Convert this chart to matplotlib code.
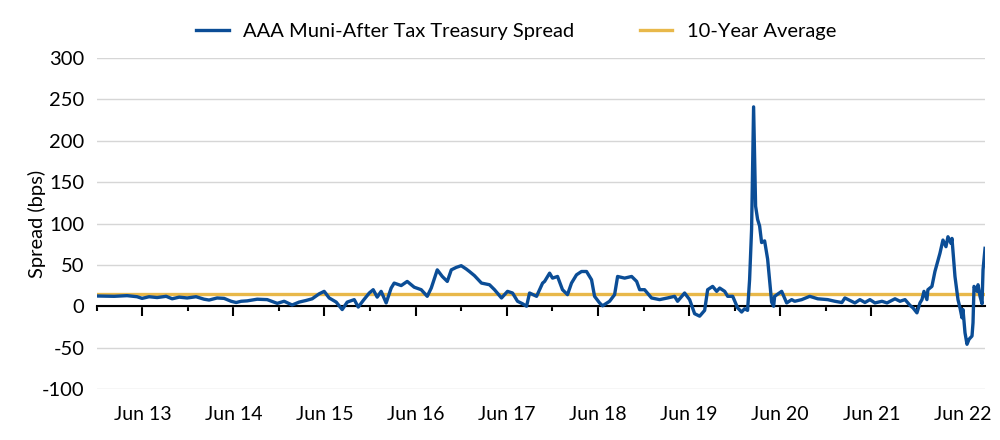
import pandas as pd
import matplotlib.pyplot as plt
import matplotlib.dates as mdates

### Data ###

# Observation dates as decimal years, spread in bps
years = [2012.912, 2013.102, 2013.245, 2013.355, 2013.410, 2013.487, 2013.575, 2013.674,
         2013.740, 2013.817, 2013.905, 2014.003, 2014.091, 2014.146, 2014.234, 2014.311,
         2014.388, 2014.443, 2014.498, 2014.564, 2014.674, 2014.784, 2014.894, 2014.970,
         2015.058, 2015.135, 2015.212, 2015.278, 2015.355, 2015.410, 2015.465, 2015.542,
         2015.608, 2015.663, 2015.740, 2015.784, 2015.839, 2015.905, 2015.948, 2015.992,
         2016.036, 2016.091, 2016.146, 2016.179, 2016.256, 2016.322, 2016.399, 2016.476,
         2016.542, 2016.586, 2016.652, 2016.707, 2016.762, 2016.806, 2016.861, 2016.915,
         2016.970, 2017.003, 2017.058, 2017.135, 2017.223, 2017.278, 2017.355, 2017.421,
         2017.476, 2017.531, 2017.586, 2017.630, 2017.663, 2017.740, 2017.806, 2017.828,
         2017.883, 2017.915, 2017.970, 2018.025, 2018.080, 2018.124, 2018.179, 2018.234,
         2018.289, 2018.344, 2018.377, 2018.432, 2018.465, 2018.542, 2018.597, 2018.630,
         2018.707, 2018.784, 2018.839, 2018.872, 2018.926, 2019.003, 2019.091, 2019.179,
         2019.256, 2019.289, 2019.366, 2019.421, 2019.476, 2019.531, 2019.586, 2019.619,
         2019.674, 2019.718, 2019.751, 2019.806, 2019.839, 2019.894, 2019.948, 2019.992,
         2020.025, 2020.058, 2020.080, 2020.102, 2020.124, 2020.146, 2020.168, 2020.190,
         2020.212, 2020.245, 2020.278, 2020.311, 2020.322, 2020.344, 2020.355, 2020.432,
         2020.487, 2020.542, 2020.575, 2020.652, 2020.740, 2020.828, 2020.937, 2021.014,
         2021.091, 2021.124, 2021.179, 2021.234, 2021.289, 2021.344, 2021.399, 2021.454,
         2021.531, 2021.586, 2021.674, 2021.729, 2021.784, 2021.839, 2021.872, 2021.915,
         2021.948, 2021.970, 2021.992, 2022.025, 2022.036, 2022.080, 2022.113, 2022.168,
         2022.201, 2022.234, 2022.256, 2022.289, 2022.300, 2022.333, 2022.366, 2022.388,
         2022.410, 2022.421, 2022.443, 2022.465, 2022.487, 2022.520, 2022.531, 2022.542,
         2022.575, 2022.586, 2022.608, 2022.630, 2022.641, 2022.663]

spread = [12.4, 12, 12.8, 11.5, 9.5, 11.5, 10.5, 12,
          9, 11, 10, 11.5, 8.5, 7.5, 10, 9.5,
          6, 4.5, 6, 6.5, 8.5, 8, 3.5, 6,
          1.5, 5, 7, 9, 15, 18, 10, 5,
          -4, 5, 8, -1, 7, 16, 20, 11,
          18, 4, 22, 28, 25, 30, 23, 20,
          12, 22, 44, 36, 30, 44, 47, 49,
          45, 42, 37, 28, 26, 20, 10, 18,
          16, 6, 3, 0, 16, 12, 28, 30,
          40, 34, 36, 20, 14, 28, 38, 42,
          42, 32, 12, 4, 0.5, 6, 14, 36,
          34, 36, 30, 20, 20, 10, 8, 10,
          12, 6, 16, 8, -9, -12, -5, 20,
          24, 18, 22, 18, 12, 12, -2, -7,
          -3, -5, 32, 93, 241, 121, 105, 97,
          77, 79, 57, 17, 5, 0, 12, 18,
          4, 8, 6, 8, 12, 9, 8, 6,
          4.5, 10, 7, 4, 8, 4.5, 8, 4,
          6, 4, 9, 6, 8, 1, -2, -8,
          4, 8, 18, 8, 20, 24, 42, 64,
          80, 72, 84, 76, 82, 36, 8, -2,
          -14, -4, -32, -46, -40, -36, -20, 24,
          18, 26, 12, 3, 44, 70]

avg_10y = 15.0

series_label = 'AAA Muni-After Tax Treasury Spread'
avg_label = '10-Year Average'
y_ticks = [-100, -50, 0, 50, 100, 150, 200, 250, 300]

#########################

def to_date(y):
    # decimal year -> timestamp
    base = pd.Timestamp(int(y), 1, 1)
    return base + pd.Timedelta(days=(y - int(y)) * 365.25)

dates = [to_date(y) for y in years]

plt.rcParams['font.family'] = ['Lato', 'DejaVu Sans']
plt.rcParams['axes.unicode_minus'] = False

blue = '#0b4d96'
gold = '#e8b84a'

fig = plt.figure(figsize=(10, 4.4), dpi=100)
ax = fig.add_axes([0.097, 0.116, 0.888, 0.752])

ax.plot(dates, spread, color=blue, linewidth=2.4, label=series_label, zorder=3)
ax.axhline(y=avg_10y, color=gold, linewidth=2.4, label=avg_label, zorder=2)

# Axis limits and ticks
ax.set_xlim(pd.Timestamp('2012-12-01'), pd.Timestamp('2022-08-31'))
ax.set_ylim(-100, 300)
ax.set_yticks(y_ticks)
ax.grid(axis='y', color='#d6d6d6', linewidth=1.0, zorder=0)
ax.set_axisbelow(True)

for side in ['top', 'right', 'left']:
    ax.spines[side].set_visible(False)
ax.spines['bottom'].set_position(('data', 0))
ax.spines['bottom'].set_linewidth(1.5)
ax.spines['bottom'].set_zorder(2.5)

ax.xaxis.set_major_locator(mdates.MonthLocator(bymonth=6))
ax.xaxis.set_minor_locator(mdates.MonthLocator(bymonth=12))
ax.xaxis.set_major_formatter(mdates.DateFormatter('%b %y'))
ax.tick_params(axis='x', which='major', length=7, width=1.5, pad=65, labelsize=14)
ax.tick_params(axis='x', which='minor', length=3.5, width=1.5)
ax.tick_params(axis='y', length=0, pad=9, labelsize=14.5)

ax.set_ylabel('Spread (bps)', fontsize=14.5, labelpad=-3)

ax.legend(loc='upper center', bbox_to_anchor=(0.472, 1.16), ncol=2, frameon=False,
          fontsize=14.5, handlelength=1.6, handletextpad=0.7, columnspacing=3.3)

fig.savefig('out.png', dpi=100)
